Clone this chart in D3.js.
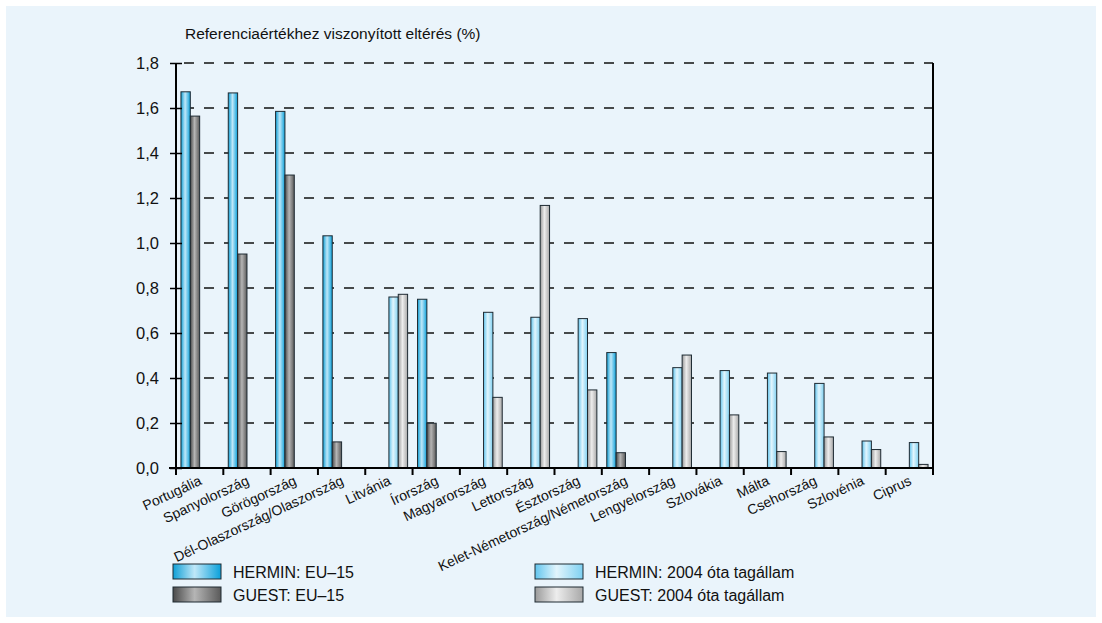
<!DOCTYPE html>
<html><head><meta charset="utf-8">
<script src="https://cdn.jsdelivr.net/npm/d3@7"></script>
<style>
html,body{margin:0;padding:0;background:#fff;}
svg{display:block;font-family:"Liberation Sans",Arial,sans-serif;}
</style></head>
<body><svg id="c" width="1102" height="623"></svg>
<script>
const categories = ["Portugália","Spanyolország","Görögország","Dél-Olaszország/Olaszország","Litvánia","Írország","Magyarország","Lettország","Észtország","Kelet-Németország/Németország","Lengyelország","Szlovákia","Málta","Csehország","Szlovénia","Ciprus"];
const seriesNames = ["HERMIN: EU–15","GUEST: EU–15","HERMIN: 2004 óta tagállam","GUEST: 2004 óta tagállam"];
const herminEU15 = [1.672,1.667,1.585,1.032,null,0.750,null,null,null,0.513,null,null,null,null,null,null];
const guestEU15  = [1.564,0.951,1.302,0.116,null,0.199,null,null,null,0.068,null,null,null,null,null,null];
const hermin2004 = [null,null,null,null,0.760,null,0.692,0.670,0.664,null,0.446,0.433,0.422,0.376,0.120,0.113];
const guest2004  = [null,null,null,null,0.772,null,0.314,1.167,0.347,null,0.502,0.236,0.073,0.138,0.082,0.016];
const yTicks = [0,0.2,0.4,0.6,0.8,1.0,1.2,1.4,1.6,1.8];
const yTitle = "Referenciaértékhez viszonyított eltérés (%)";

const seriesValues = [herminEU15, guestEU15, hermin2004, guest2004];
const gradStops = [
  ["#0f9fd6","#bfe7f8","#0aa0da"],
  ["#4a4a4a","#b5b5b5","#5a5a5a"],
  ["#62c5ee","#e2f5fd","#7ed0f1"],
  ["#9a9a9a","#ededed","#a8a8a8"]
];

const svg = d3.select("#c");
svg.append("rect").attr("x",6).attr("y",6).attr("width",1090).attr("height",611).attr("fill","#eaf4fb");

const defs = svg.append("defs");
gradStops.forEach((s,i)=>{
  const g = defs.append("linearGradient").attr("id","g"+i).attr("x1","0%").attr("x2","100%").attr("y1","0%").attr("y2","0%");
  g.append("stop").attr("offset","0%").attr("stop-color",s[0]);
  g.append("stop").attr("offset","45%").attr("stop-color",s[1]);
  g.append("stop").attr("offset","100%").attr("stop-color",s[2]);
});

const L = 176, R = 933, T = 63, B = 468;
const x0 = d3.scaleBand().domain(categories).range([L,R]).padding(0);
const x1 = d3.scaleBand().domain(seriesNames).range([0,x0.bandwidth()]).paddingInner(0).paddingOuter(0.53);
const y = d3.scaleLinear().domain([0,1.8]).range([B,T]);

// grid
svg.append("g").selectAll("line").data(yTicks.filter(d=>d>0)).join("line")
  .attr("x1",L+8).attr("x2",R).attr("y1",d=>y(d)).attr("y2",d=>y(d))
  .attr("stroke","#111").attr("stroke-width",1.3).attr("stroke-dasharray","10,10");

// bars
const bars = [];
categories.forEach((c,ci)=>{
  seriesValues.forEach((arr,si)=>{
    if(arr[ci]!=null) bars.push({c, s:seriesNames[si], si, v:arr[ci]});
  });
});
svg.append("g").selectAll("rect").data(bars).join("rect")
  .attr("x",d=>x0(d.c)+x1(d.s)).attr("width",x1.bandwidth())
  .attr("y",d=>y(d.v)).attr("height",d=>B-y(d.v))
  .attr("fill",d=>"url(#g"+d.si+")")
  .attr("stroke","#1e2a32").attr("stroke-width",1);

// left axis
const yAxis = svg.append("g").attr("transform",`translate(${L},0)`)
  .call(d3.axisLeft(y).tickValues(yTicks).tickSize(6).tickFormat(d=>d3.format(".1f")(d).replace(".",",")));
yAxis.select(".domain").remove();
yAxis.selectAll(".tick line").attr("x1",-6).attr("x2",6).attr("stroke","#000").attr("stroke-width",1.5);
yAxis.selectAll(".tick text").attr("x",-17).attr("font-size",16.5).attr("fill","#111").attr("font-family","Liberation Sans, Arial, sans-serif");
svg.append("line").attr("x1",L).attr("x2",L).attr("y1",T).attr("y2",B+7).attr("stroke","#000").attr("stroke-width",2);
svg.append("line").attr("x1",R).attr("x2",R).attr("y1",T).attr("y2",B+7).attr("stroke","#000").attr("stroke-width",2);

// bottom axis
svg.append("line").attr("x1",L-7).attr("x2",R).attr("y1",B).attr("y2",B).attr("stroke","#000").attr("stroke-width",2);
const bounds = categories.map(c=>x0(c)).concat([R]);
svg.append("g").selectAll("line").data(bounds).join("line")
  .attr("x1",d=>d).attr("x2",d=>d).attr("y1",B).attr("y2",B+7).attr("stroke","#000").attr("stroke-width",2);

// x labels
svg.append("g").selectAll("text").data(categories).join("text")
  .attr("transform",d=>`translate(${x0(d)+x0.bandwidth()/2+3},${B+16}) rotate(-25)`)
  .attr("text-anchor","end").attr("font-size",14).attr("fill","#111").text(d=>d);

// title
svg.append("text").attr("x",185).attr("y",39).attr("font-size",15.5).attr("fill","#111").text(yTitle);

// legend
const legPos = [[173,564],[173,587],[535,564],[535,587]];
const leg = svg.append("g").selectAll("g").data(seriesNames).join("g")
  .attr("transform",(d,i)=>`translate(${legPos[i][0]},${legPos[i][1]})`);
leg.append("rect").attr("width",48).attr("height",15).attr("fill",(d,i)=>"url(#g"+i+")").attr("stroke","#1e2a32").attr("stroke-width",1);
leg.append("text").attr("x",60).attr("y",13.5).attr("font-size",16).attr("fill","#111").text(d=>d);
</script></body></html>
